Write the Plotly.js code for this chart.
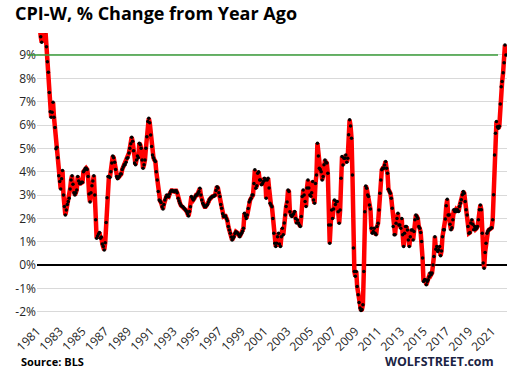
<!DOCTYPE html>
<html><head><meta charset="utf-8">
<script src="https://cdn.plot.ly/plotly-3.0.1.min.js"></script>
<style>html,body{margin:0;padding:0;background:#fff;overflow:hidden}</style>
</head><body><div id="chart" style="width:513px;height:376px"></div>
<script>
// CPI-W, % change from year ago, monthly (Jan..Dec)
const cpi1981 = [11.6, 11.0, 10.4, 10.1, 9.78, 9.54, 10.6, 10.8, 10.9, 10.0, 9.35, 8.71];
const cpi1982 = [8.26, 7.39, 6.57, 6.33, 6.55, 6.97, 6.33, 5.89, 4.98, 5.05, 4.6, 3.83];
const cpi1983 = [3.58, 3.26, 3.7, 4.05, 3.0, 2.51, 2.15, 2.36, 2.6, 2.72, 2.86, 3.26];
const cpi1984 = [3.65, 3.83, 3.46, 3.1, 3.0, 3.1, 3.22, 3.8, 3.6, 3.5, 3.5, 3.55];
const cpi1985 = [3.55, 4.0, 4.05, 4.15, 4.15, 4.1, 3.8, 3.05, 2.7, 3.1, 3.4, 3.6];
const cpi1986 = [3.83, 3.0, 1.94, 1.15, 1.25, 1.33, 1.4, 1.15, 1.2, 0.9, 0.8, 0.65];
const cpi1987 = [0.96, 1.83, 2.88, 3.79, 3.8, 3.75, 4.0, 4.37, 4.67, 4.6, 4.4, 4.1];
const cpi1988 = [3.8, 3.7, 3.75, 3.8, 3.9, 3.9, 4.1, 4.2, 4.3, 4.3, 4.4, 4.58];
const cpi1989 = [4.6, 4.8, 5.0, 5.2, 5.48, 5.3, 4.9, 4.37, 4.3, 4.5, 4.67, 4.6];
const cpi1990 = [5.22, 5.15, 5.0, 4.5, 4.15, 4.3, 4.5, 5.0, 5.5, 6.15, 6.29, 6.1];
const cpi1991 = [5.57, 5.08, 4.72, 4.6, 4.5, 4.44, 4.0, 3.65, 3.15, 2.79, 2.75, 2.68];
const cpi1992 = [2.5, 2.4, 2.6, 2.79, 2.9, 3.0, 2.95, 2.93, 3.05, 3.15, 3.2, 3.2];
const cpi1993 = [3.15, 3.15, 3.18, 3.18, 3.1, 2.86, 2.75, 2.65, 2.55, 2.52, 2.5, 2.45];
const cpi1994 = [2.4, 2.35, 2.3, 2.2, 2.1, 2.3, 2.5, 2.94, 2.85, 2.79, 2.85, 2.94];
const cpi1995 = [3.0, 3.0, 3.08, 3.15, 3.29, 3.0, 2.79, 2.65, 2.58, 2.5, 2.5, 2.55];
const cpi1996 = [2.6, 2.7, 2.8, 2.86, 2.9, 2.94, 2.95, 2.96, 3.0, 3.2, 3.36, 3.3];
const cpi1997 = [3.1, 2.94, 2.6, 2.44, 2.2, 2.08, 2.1, 2.1, 2.0, 1.9, 1.65, 1.5];
const cpi1998 = [1.37, 1.2, 1.08, 1.15, 1.22, 1.35, 1.43, 1.4, 1.37, 1.3, 1.22, 1.3];
const cpi1999 = [1.37, 1.45, 1.58, 2.22, 2.1, 2.0, 2.15, 2.43, 2.7, 2.79, 2.86, 3.0];
const cpi2000 = [3.0, 3.5, 4.08, 3.29, 3.4, 3.93, 4.0, 3.65, 3.65, 3.44, 3.5, 3.58];
const cpi2001 = [3.72, 3.65, 2.86, 3.65, 3.72, 3.3, 2.65, 2.58, 2.5, 2.0, 1.37, 0.94];
const cpi2002 = [0.8, 0.94, 1.22, 1.37, 0.9, 0.8, 1.22, 1.58, 1.3, 1.8, 2.15, 2.51];
const cpi2003 = [2.7, 3.22, 3.15, 2.29, 2.15, 2.08, 2.15, 2.2, 2.3, 2.0, 1.8, 1.93];
const cpi2004 = [1.8, 1.72, 1.65, 2.08, 2.94, 3.22, 3.0, 2.72, 2.51, 3.3, 3.65, 3.3];
const cpi2005 = [3.0, 2.95, 3.1, 3.58, 2.79, 2.65, 3.5, 3.86, 5.22, 4.67, 4.15, 4.1];
const cpi2006 = [4.0, 3.65, 3.8, 4.3, 4.5, 4.4, 4.37, 3.93, 1.72, 0.94, 1.72, 2.36];
const cpi2007 = [2.0, 2.4, 2.79, 2.6, 2.72, 2.72, 2.29, 1.79, 2.36, 3.72, 4.65, 4.29];
const cpi2008 = [4.58, 4.58, 4.72, 4.4, 4.58, 5.58, 6.22, 5.96, 5.43, 3.86, 0.73, -0.27];
const cpi2009 = [-0.48, -0.27, -0.92, -1.27, -1.6, -1.84, -1.94, -1.9, -1.7, -0.27, 2.29, 3.39];
const cpi2010 = [3.29, 3.0, 2.94, 2.58, 2.4, 1.58, 1.37, 1.44, 1.58, 1.37, 1.3, 1.65];
const cpi2011 = [1.79, 2.36, 3.08, 3.65, 4.08, 4.15, 4.15, 4.29, 4.44, 4.15, 3.93, 3.25];
const cpi2012 = [3.15, 3.08, 2.86, 2.44, 1.65, 1.3, 1.3, 1.79, 2.0, 2.22, 1.72, 1.72];
const cpi2013 = [1.58, 2.0, 1.3, 0.8, 1.37, 1.65, 1.65, 1.5, 1.08, 0.8, 1.22, 1.5];
const cpi2014 = [1.5, 1.08, 1.44, 1.94, 2.15, 2.08, 2.0, 1.65, 1.58, 1.4, 1.01, 0.3];
const cpi2015 = [-0.7, -0.63, -0.63, -0.84, -0.7, -0.63, -0.5, -0.34, -0.41, -0.34, 0.01, 0.37];
const cpi2016 = [1.22, 0.68, 0.8, 0.58, 0.66, 0.8, 0.4, 0.6, 1.22, 1.51, 1.51, 1.97];
const cpi2017 = [2.54, 2.82, 2.15, 2.15, 1.75, 1.51, 1.6, 1.94, 2.37, 2.3, 2.37, 2.3];
const cpi2018 = [2.37, 2.3, 2.51, 2.65, 2.8, 3.01, 3.15, 3.08, 2.72, 2.37, 2.15, 1.65];
const cpi2019 = [1.37, 1.4, 1.8, 1.94, 1.75, 1.51, 1.65, 1.54, 1.58, 1.65, 1.94, 2.37];
const cpi2020 = [2.58, 2.37, 1.37, 0.09, -0.13, 0.54, 0.94, 1.37, 1.45, 1.51, 1.54, 1.58];
const cpi2021 = [1.6, 1.94, 3.01, 4.72, 5.65, 6.15, 5.93, 5.86, 5.95, 6.9, 7.64, 7.86];
const cpi2022 = [8.24, 8.67, 9.43, 9.0];

const years = [1981,1982,1983,1984,1985,1986,1987,1988,1989,1990,1991,1992,1993,1994,1995,1996,1997,1998,1999,2000,2001,2002,2003,2004,2005,2006,2007,2008,2009,2010,2011,2012,2013,2014,2015,2016,2017,2018,2019,2020,2021,2022];
const series = [cpi1981,cpi1982,cpi1983,cpi1984,cpi1985,cpi1986,cpi1987,cpi1988,cpi1989,cpi1990,cpi1991,cpi1992,cpi1993,cpi1994,cpi1995,cpi1996,cpi1997,cpi1998,cpi1999,cpi2000,cpi2001,cpi2002,cpi2003,cpi2004,cpi2005,cpi2006,cpi2007,cpi2008,cpi2009,cpi2010,cpi2011,cpi2012,cpi2013,cpi2014,cpi2015,cpi2016,cpi2017,cpi2018,cpi2019,cpi2020,cpi2021,cpi2022];

const tickYears = ['1981','1983','1985','1987','1989','1991','1993','1995','1997','1999','2001','2003','2005','2007','2009','2011','2013','2015','2017','2019','2021'];
const yTicks = [-2,-1,0,1,2,3,4,5,6,7,8,9];
const yTickText = ['-2%','-1%','0%','1%','2%','3%','4%','5%','6%','7%','8%','9%'];
const refLevel = 9;

const xs = [], ys = [];
years.forEach((yr, i) => {
  series[i].forEach((v, m) => {
    xs.push(yr + '-' + String(m + 1).padStart(2, '0') + '-01');
    ys.push(v);
  });
});

const font = "'Open Sans', 'DejaVu Sans', sans-serif";

const traces = [{
  x: xs, y: ys, type: 'scatter', mode: 'lines+markers',
  line: {color: '#ff0000', width: 4.5},
  marker: {color: '#000000', size: 3.5, symbol: 'circle'},
  hoverinfo: 'skip', showlegend: false
}];

const layout = {
  width: 513, height: 376,
  margin: {l: 37, r: 6, t: 33, b: 63, pad: 0},
  paper_bgcolor: '#ffffff', plot_bgcolor: '#ffffff',
  showlegend: false,
  title: {
    text: '<b>CPI-W, % Change from Year Ago</b>',
    font: {family: font, size: 18, color: '#000000'},
    x: 15/513, xanchor: 'left', xref: 'container',
    y: 1 - 14/376, yanchor: 'middle', yref: 'container'
  },
  xaxis: {
    type: 'date',
    range: ['1981-01-01', '2022-05-06'],
    tickvals: tickYears.map(y => y + '-01-01'),
    ticktext: tickYears,
    tickangle: -45,
    ticklabelstandoff: 8,
    tickfont: {family: font, size: 12, color: '#262626'},
    showgrid: false, zeroline: false, showline: false, ticks: '',
    fixedrange: true
  },
  yaxis: {
    range: [-2.05, 9.94],
    tickvals: yTicks, ticktext: yTickText,
    tickfont: {family: font, size: 12, color: '#262626'},
    showgrid: true, gridcolor: '#d9d9d9', gridwidth: 1,
    zeroline: true, zerolinecolor: '#000000', zerolinewidth: 1.5,
    showline: false, ticks: '', fixedrange: true
  },
  shapes: [{
    type: 'line', xref: 'paper', yref: 'y',
    x0: -9/470, x1: 461/470, y0: refLevel, y1: refLevel,
    line: {color: '#3a9d3a', width: 1.5}, layer: 'above'
  }],
  annotations: [
    {text: '<b>Source: BLS</b>', xref: 'paper', yref: 'paper', x: -18/470, y: -48/280,
     xanchor: 'left', yanchor: 'middle', showarrow: false,
     font: {family: font, size: 11, color: '#000000'}},
    {text: '<b>WOLFSTREET.com</b>', xref: 'paper', yref: 'paper', x: 459/470, y: -48/280,
     xanchor: 'right', yanchor: 'middle', showarrow: false,
     font: {family: font, size: 12.4, color: '#1b2444'}}
  ]
};

Plotly.newPlot('chart', traces, layout, {staticPlot: true, displayModeBar: false});
</script>
</body></html>
